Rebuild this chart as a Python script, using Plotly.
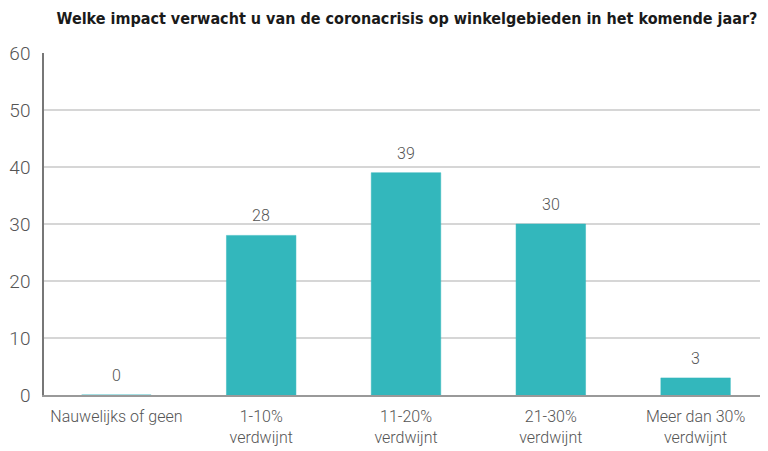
import plotly.graph_objects as go

categories = ["Nauwelijks of geen", "1-10%<br>verdwijnt", "11-20%<br>verdwijnt",
              "21-30%<br>verdwijnt", "Meer dan 30%<br>verdwijnt"]
values = [0, 28, 39, 30, 3]
y_ticks = [0, 10, 20, 30, 40, 50, 60]

teal = "#33b7bc"
grey_text = "#555555"
light_font = dict(family="Roboto", color=grey_text, weight=300)

fig = go.Figure(go.Bar(
    x=categories,
    y=values,
    marker=dict(color=teal, line=dict(color=teal, width=0.5)),
    cliponaxis=False,
))

# value labels sitting a little above each bar
for cat, val in zip(categories, values):
    fig.add_annotation(
        x=cat, y=val, text=str(val), showarrow=False,
        yanchor="bottom", yshift=8,
        font=dict(size=16, **light_font),
    )

# page body adds an 8px offset, so the figure is sized to fill the rest
fig.update_layout(
    width=760, height=443,
    margin=dict(l=36, r=0, t=45, b=56),
    paper_bgcolor="white",
    plot_bgcolor="white",
    bargap=0.52,
    showlegend=False,
    title=dict(
        text="Welke impact verwacht u van de coronacrisis op winkelgebieden in het komende jaar?",
        x=0.525, xanchor="center", y=0.977, yanchor="middle",
        font=dict(family="DejaVu Sans Condensed", size=16,
                  color="#1a1a1a", weight="bold"),
    ),
    xaxis=dict(
        showgrid=False, automargin=False,
        showline=True, linecolor="#999999", linewidth=1.5,
        tickfont=dict(size=16, **light_font),
        ticks="", ticklabelstandoff=6, fixedrange=True,
    ),
    yaxis=dict(
        range=[0, 60], tickvals=y_ticks, automargin=False,
        showgrid=True, gridcolor="#d6d6d6", gridwidth=1.5,
        showline=True, linecolor="#777777", linewidth=1.5,
        zeroline=False,
        ticks="", ticklabelstandoff=8,
        tickfont=dict(size=19, **light_font),
    ),
)

fig.write_html("out.html")
